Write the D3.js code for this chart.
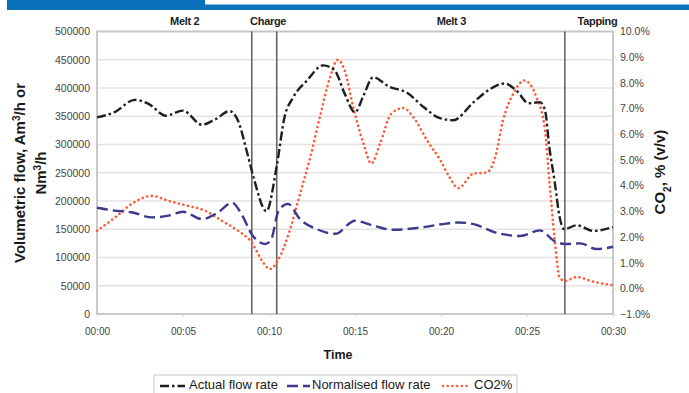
<!DOCTYPE html>
<html>
<head>
<meta charset="utf-8">
<script src="https://cdn.jsdelivr.net/npm/d3@7"></script>
<style>
  html, body { margin: 0; padding: 0; background: #fff; }
  svg { display: block; font-family: "Liberation Sans", Arial, sans-serif; }
</style>
</head>
<body>
<svg id="chart" width="689" height="393"></svg>
<script>
// Flow and CO2 trace through Melt 2, charge, Melt 3 and tapping (time in minutes)
const actualTimes = [0, 1.0, 2.2, 3.0, 4.0, 5.0, 6.1, 6.9, 7.7, 8.2, 8.7, 9.1, 9.85, 10.45, 10.9, 11.4, 12.2, 13.15, 13.8, 14.4, 15.0, 15.5, 16.05, 17.0, 18.0, 19.0, 19.9, 20.7, 21.9, 22.85, 23.7, 24.4, 25.1, 25.75, 26.05, 26.3, 26.6, 26.9, 27.15, 27.9, 28.85, 30.0];
const actualFlow = [348000, 357000, 379000, 372000, 351000, 360000, 335000, 345000, 359000, 342000, 289000, 242000, 182000, 262000, 348000, 383000, 413000, 440000, 432000, 390000, 357000, 387000, 419000, 402000, 392000, 366000, 347000, 343000, 375000, 398000, 408000, 395000, 373000, 375000, 360000, 295000, 236000, 171000, 150000, 157000, 147000, 154000];

const normTimes = [0, 1.0, 2.0, 3.2, 4.15, 5.0, 6.1, 7.05, 7.85, 8.4, 9.0, 9.75, 10.1, 10.55, 11.1, 11.8, 12.8, 13.85, 15.0, 16.1, 17.2, 18.8, 20.3, 21.0, 21.9, 23.2, 24.6, 25.75, 26.6, 27.2, 28.1, 29.05, 30.0];
const normFlow = [188000, 183000, 180000, 171000, 174000, 181000, 168000, 180000, 197000, 177000, 141000, 124000, 130000, 182000, 195000, 168000, 150000, 142000, 165000, 156000, 149000, 153000, 160000, 162000, 159000, 144000, 138000, 148000, 129000, 124000, 125000, 115000, 119000];

const co2Times = [0, 1.05, 2.0, 3.2, 4.15, 5.3, 6.3, 7.25, 8.2, 9.0, 9.6, 10.05, 10.55, 11.2, 11.8, 12.4, 13.0, 13.55, 14.0, 14.4, 14.9, 15.5, 15.95, 16.45, 17.1, 17.8, 18.4, 19.2, 19.95, 20.5, 21.0, 21.9, 22.65, 23.15, 23.6, 24.2, 24.85, 25.55, 26.05, 26.3, 26.6, 26.9, 27.2, 27.9, 28.85, 30.0];
const co2Pct = [2.24, 2.76, 3.28, 3.60, 3.41, 3.21, 3.02, 2.63, 2.24, 1.78, 1.07, 0.75, 1.13, 2.24, 3.67, 5.10, 6.79, 8.22, 8.90, 8.48, 7.05, 5.62, 4.86, 5.62, 6.79, 7.02, 6.66, 5.75, 5.00, 4.32, 3.90, 4.47, 4.51, 5.10, 6.53, 7.57, 8.09, 7.44, 6.14, 4.19, 1.98, 0.42, 0.29, 0.44, 0.26, 0.12];

// Phase boundaries (minutes) and phase names with the time they are centred on
const phaseBounds = [9.0, 10.45, 27.2];
const phaseNames = ["Melt 2", "Charge", "Melt 3", "Tapping"];
const phaseCentres = [5.1, 9.95, 20.6, 29.1];

const timeTicks = [0, 5, 10, 15, 20, 25, 30];
const timeTickLabels = ["00:00", "00:05", "00:10", "00:15", "00:20", "00:25", "00:30"];
const flowTicks = d3.range(0, 500001, 50000);
const co2Ticks = d3.range(-1, 10.01, 1);

const seriesNames = ["Actual flow rate", "Normalised flow rate", "CO2%"];

const svg = d3.select("#chart");
const plot = { left: 97, right: 613, top: 31.5, bottom: 314 };

const x = d3.scaleLinear().domain([0, 30]).range([plot.left, plot.right]);
const yFlow = d3.scaleLinear().domain([0, 500000]).range([plot.bottom, plot.top]);
const yCo2 = d3.scaleLinear().domain([-1, 10]).range([plot.bottom, plot.top]);

// Header band
svg.append("rect").attr("x", 7).attr("y", 0).attr("width", 198).attr("height", 10).attr("fill", "#0a72ba");
svg.append("rect").attr("x", 205).attr("y", 4.5).attr("width", 484).attr("height", 5.5).attr("fill", "#0a72ba");

// Horizontal gridlines
svg.append("g")
  .selectAll("line")
  .data(flowTicks.slice(1))
  .join("line")
  .attr("x1", plot.left).attr("x2", plot.right)
  .attr("y1", d => yFlow(d)).attr("y2", d => yFlow(d))
  .attr("stroke", "#e3e3e3").attr("stroke-width", 1.6);

// Plot frame
svg.append("rect")
  .attr("x", plot.left).attr("y", plot.top)
  .attr("width", plot.right - plot.left).attr("height", plot.bottom - plot.top)
  .attr("fill", "none").attr("stroke", "#c4c4c4").attr("stroke-width", 1.8);

// Left axis
const leftAxis = svg.append("g")
  .attr("transform", `translate(${plot.left},0)`)
  .call(d3.axisLeft(yFlow).tickValues(flowTicks).tickFormat(d3.format("d")).tickSize(0).tickPadding(7));
leftAxis.select(".domain").remove();
leftAxis.selectAll("text").attr("font-size", 10.5).attr("fill", "#444").attr("font-family", "Liberation Sans, Arial, sans-serif");

// Right axis
const rightAxis = svg.append("g")
  .attr("transform", `translate(${plot.right},0)`)
  .call(d3.axisRight(yCo2).tickValues(co2Ticks).tickFormat(d => d3.format(".1f")(d) + "%").tickSize(3).tickPadding(4));
rightAxis.select(".domain").remove();
rightAxis.selectAll("line").attr("stroke", "#ddd");
rightAxis.selectAll("text").attr("font-size", 10.5).attr("fill", "#444").attr("font-family", "Liberation Sans, Arial, sans-serif");

// Bottom axis
const bottomAxis = svg.append("g")
  .attr("transform", `translate(0,${plot.bottom})`)
  .call(d3.axisBottom(x).tickValues(timeTicks).tickFormat((d, i) => timeTickLabels[i]).tickSize(3).tickPadding(11));
bottomAxis.select(".domain").remove();
bottomAxis.selectAll("line").attr("stroke", "#ddd");
bottomAxis.selectAll("text").attr("font-size", 10).attr("fill", "#444").attr("font-family", "Liberation Sans, Arial, sans-serif");

// Phase boundaries
svg.append("g")
  .selectAll("line")
  .data(phaseBounds)
  .join("line")
  .attr("x1", d => x(d)).attr("x2", d => x(d))
  .attr("y1", plot.top).attr("y2", plot.bottom)
  .attr("stroke", "#666").attr("stroke-width", 1.6);

svg.append("g")
  .selectAll("text")
  .data(phaseNames)
  .join("text")
  .attr("x", (d, i) => x(phaseCentres[i]))
  .attr("y", 25)
  .attr("text-anchor", "middle")
  .attr("font-size", 11)
  .attr("font-weight", "bold")
  .attr("letter-spacing", -0.3)
  .attr("fill", "#222")
  .text(d => d);

// Series lines
const flowLine = (times) => d3.line()
  .x((d, i) => x(times[i]))
  .y(d => yFlow(d))
  .curve(d3.curveMonotoneX);

const co2Line = d3.line()
  .x((d, i) => x(co2Times[i]))
  .y(d => yCo2(d))
  .curve(d3.curveMonotoneX);

const styles = [
  { color: "#1e1e1e", dash: "9,3,2.5,3", cap: "butt" },
  { color: "#3b3a8e", dash: "11,5", cap: "butt" },
  { color: "#ff5a36", dash: "0.1,4.6", cap: "round" }
];

svg.append("path")
  .datum(co2Pct)
  .attr("d", co2Line)
  .attr("fill", "none")
  .attr("stroke", styles[2].color)
  .attr("stroke-width", 2.6)
  .attr("stroke-linecap", styles[2].cap)
  .attr("stroke-dasharray", styles[2].dash);

svg.append("path")
  .datum(normFlow)
  .attr("d", flowLine(normTimes))
  .attr("fill", "none")
  .attr("stroke", styles[1].color)
  .attr("stroke-width", 2.4)
  .attr("stroke-dasharray", styles[1].dash);

svg.append("path")
  .datum(actualFlow)
  .attr("d", flowLine(actualTimes))
  .attr("fill", "none")
  .attr("stroke", styles[0].color)
  .attr("stroke-width", 2.4)
  .attr("stroke-dasharray", styles[0].dash);

// Axis titles
const leftTitle = svg.append("g").attr("transform", "translate(0,173) rotate(-90)");
const lt1 = leftTitle.append("text")
  .attr("x", 0).attr("y", 25)
  .attr("text-anchor", "middle")
  .attr("font-size", 15).attr("font-weight", "bold").attr("fill", "#1a1a1a");
lt1.append("tspan").text("Volumetric flow, Am");
lt1.append("tspan").attr("baseline-shift", "super").attr("font-size", 10).text("3");
lt1.append("tspan").text("/h or");
const lt2 = leftTitle.append("text")
  .attr("x", 0).attr("y", 46)
  .attr("text-anchor", "middle")
  .attr("font-size", 15).attr("font-weight", "bold").attr("fill", "#1a1a1a");
lt2.append("tspan").text("Nm");
lt2.append("tspan").attr("baseline-shift", "super").attr("font-size", 10).text("3");
lt2.append("tspan").text("/h");

const rightTitle = svg.append("text")
  .attr("transform", "translate(665,172) rotate(-90)")
  .attr("text-anchor", "middle")
  .attr("font-size", 15).attr("font-weight", "bold").attr("fill", "#1a1a1a");
rightTitle.append("tspan").text("CO");
rightTitle.append("tspan").attr("baseline-shift", "sub").attr("font-size", 10).text("2");
rightTitle.append("tspan").text(", % (v/v)");

svg.append("text")
  .attr("x", 338).attr("y", 359)
  .attr("text-anchor", "middle")
  .attr("font-size", 12.5).attr("font-weight", "bold").attr("fill", "#1a1a1a")
  .text("Time");

// Legend
const legend = svg.append("g");
legend.append("rect")
  .attr("x", 154).attr("y", 375).attr("width", 363).attr("height", 30)
  .attr("fill", "#fff").attr("stroke", "#d0d0d0").attr("stroke-width", 1.2);
const legendSamples = [[160, 185, 189], [287, 310, 312], [443, 468, 474]];
seriesNames.forEach((name, i) => {
  const [x1, x2, tx] = legendSamples[i];
  legend.append("line")
    .attr("x1", x1).attr("x2", x2).attr("y1", 386).attr("y2", 386)
    .attr("stroke", styles[i].color)
    .attr("stroke-width", 2.4)
    .attr("stroke-linecap", styles[i].cap)
    .attr("stroke-dasharray", styles[i].dash);
  legend.append("text")
    .attr("x", tx).attr("y", 389)
    .attr("font-size", 13).attr("fill", "#1a1a1a")
    .text(name);
});
</script>
</body>
</html>
